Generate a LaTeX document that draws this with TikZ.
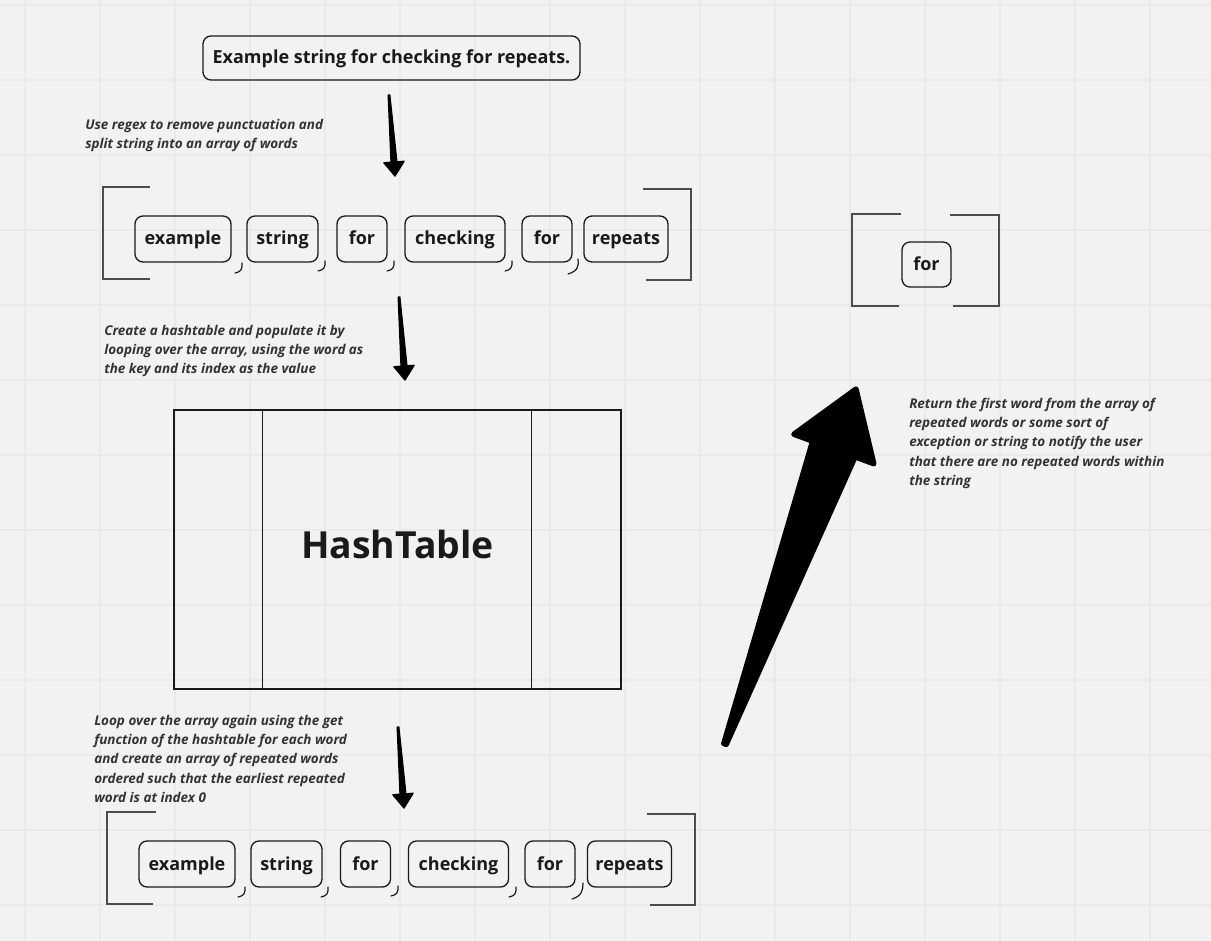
\documentclass[tikz,border=0pt]{standalone}
\usepackage{fontspec}
\setmainfont{Open Sans}
\usetikzlibrary{calc}
\definecolor{bg}{HTML}{F2F2F2}
\definecolor{gridc}{HTML}{EAEAEA}
\definecolor{ink}{HTML}{1A1A1A}
\definecolor{notec}{HTML}{333333}
\tikzset{
  word/.style={draw=ink, rounded corners=6pt, line width=1pt, minimum width=#1, minimum height=34.5pt,
    inner xsep=0pt, text height=11pt, text depth=2pt, font=\bfseries\fontsize{13.5}{16}\selectfont, text=ink},
  note/.style={anchor=north west, inner sep=0pt, align=left,
    font=\bfseries\itshape\fontsize{10.1}{14.4}\selectfont, text=notec},
  brk/.style={draw=black!70, line width=0.9pt},
  marker/.style={fill=black, draw=black, line join=round, line width=1pt},
  comma/.style={draw=ink, line width=0.9pt, line cap=round},
}
% tapered marker arrow: start, tip, tail/shaft/head half widths, head length
\newcommand{\marker}[7][]{%
  \coordinate (mk-h) at ($(#3)!#7!(#2)$);
  \filldraw[marker,#1] ($(#2)!#4!90:(#3)$) -- ($(mk-h)!#5!90:(#3)$) -- ($(mk-h)!#6!90:(#3)$) -- (#3)
    -- ($(mk-h)!#6!-90:(#3)$) -- ($(mk-h)!#5!-90:(#3)$) -- ($(#2)!#4!-90:(#3)$) -- cycle;}
\newcommand{\cm}[2]{\draw[comma] (#1,#2) .. controls (#1+0.5,#2+6) and (#1-1,#2+9) .. (#1-7,#2+10);}

\begin{document}
\begin{tikzpicture}[x=0.75pt, y=-0.75pt]
% background and grid
\fill[bg] (0,0) rectangle (1211,941);
\useasboundingbox (0,0) rectangle (1211,941);
\foreach \gx in {25,100,...,1200} \draw[gridc, line width=1pt] (\gx,0) -- (\gx,941);
\foreach \gy in {5,80,...,940} \draw[gridc, line width=1pt] (0,\gy) -- (1211,\gy);

% input string
\node[word=282.75pt, minimum height=33pt, text height=10.5pt] (src) at (391.5,58) {Example string for checking for repeats.};
\node[note] (n1) at (85,119) {Use regex to remove punctuation and\\split string into an array of words};

% array of words
\draw[brk] (150,187) -- (103,187) -- (103,279) -- (150,279);
\draw[brk] (643,189) -- (691,189) -- (691,280) -- (646,280);
\node[word=72pt] (w1a) at (183,239) {example};
\node[word=53.25pt] (w1b) at (282.5,239) {string};
\node[word=37.5pt] (w1c) at (362,239) {for};
\node[word=75pt] (w1d) at (455,239) {checking};
\node[word=37.5pt] (w1e) at (547,239) {for};
\node[word=63pt] (w1f) at (626,239) {repeats};
\cm{242}{263} \cm{325}{261} \cm{394}{261} \cm{512}{261}
\draw[comma] (578,259) .. controls (579,266) and (578,271) .. (568,274);

% hashtable
\node[note] (n2) at (104,325) {Create a hashtable and populate it by\\looping over the array, using the word as\\the key and its index as the value};
\node[draw=ink, line width=1pt, minimum width=335.25pt, minimum height=209.25pt, text height=20pt, text depth=6.8pt,
  font=\bfseries\fontsize{28}{32}\selectfont, text=ink] (hash) at (397.5,549.5) {HashTable};
\draw[ink, line width=1pt] ($(hash.north west)+(89,0)$) -- ($(hash.south west)+(89,0)$);
\draw[ink, line width=1pt] ($(hash.north west)+(358,0)$) -- ($(hash.south west)+(358,0)$);

% repeated words
\node[note] (n3) at (94,715) {Loop over the array again using the get\\function of the hashtable for each word\\and create an array of repeated words\\ordered such that the earliest repeated\\word is at index 0};
\draw[brk] (156,812) -- (107,812) -- (107,904) -- (153,904);
\draw[brk] (647,814) -- (695,814) -- (695,905) -- (650,905);
\node[word=72pt] (w2a) at (187,864) {example};
\node[word=53.25pt] (w2b) at (286.5,864) {string};
\node[word=37.5pt] (w2c) at (365.5,864) {for};
\node[word=75pt] (w2d) at (458.5,864) {checking};
\node[word=37.5pt] (w2e) at (550,864) {for};
\node[word=63pt] (w2f) at (629.5,864) {repeats};
\cm{245}{887} \cm{328}{887} \cm{398}{886} \cm{516}{887}
\draw[comma] (583,883) .. controls (583,890) and (582,896) .. (572,899);

% result
\draw[brk] (901,214) -- (852,214) -- (852,306) -- (899,306);
\draw[brk] (950,215) -- (999,215) -- (999,306) -- (953,306);
\node[word=36.75pt, minimum height=33.75pt] (res) at (926.5,264.5) {for};
\node[note] (n4) at (909,398) {Return the first word from the array of\\repeated words or some sort of\\exception or string to notify the user\\that there are no repeated words within\\the string};

% arrows
\coordinate (a1s) at (389,95);  \coordinate (a1e) at (395,176);
\coordinate (a2s) at (399,297); \coordinate (a2e) at (405,380);
\coordinate (a3s) at (398,727); \coordinate (a3e) at (404,808);
\coordinate (a4s) at (725,744); \coordinate (a4e) at (856,389);
\marker{a1s}{a1e}{0.6pt}{2.2pt}{7.6pt}{10.5pt}
\marker{a2s}{a2e}{0.6pt}{2.2pt}{7.6pt}{10.5pt}
\marker{a3s}{a3e}{0.6pt}{2.2pt}{7.6pt}{10.5pt}
\marker[line width=4pt]{a4s}{a4e}{1pt}{17pt}{32pt}{48pt}
\end{tikzpicture}
\end{document}
